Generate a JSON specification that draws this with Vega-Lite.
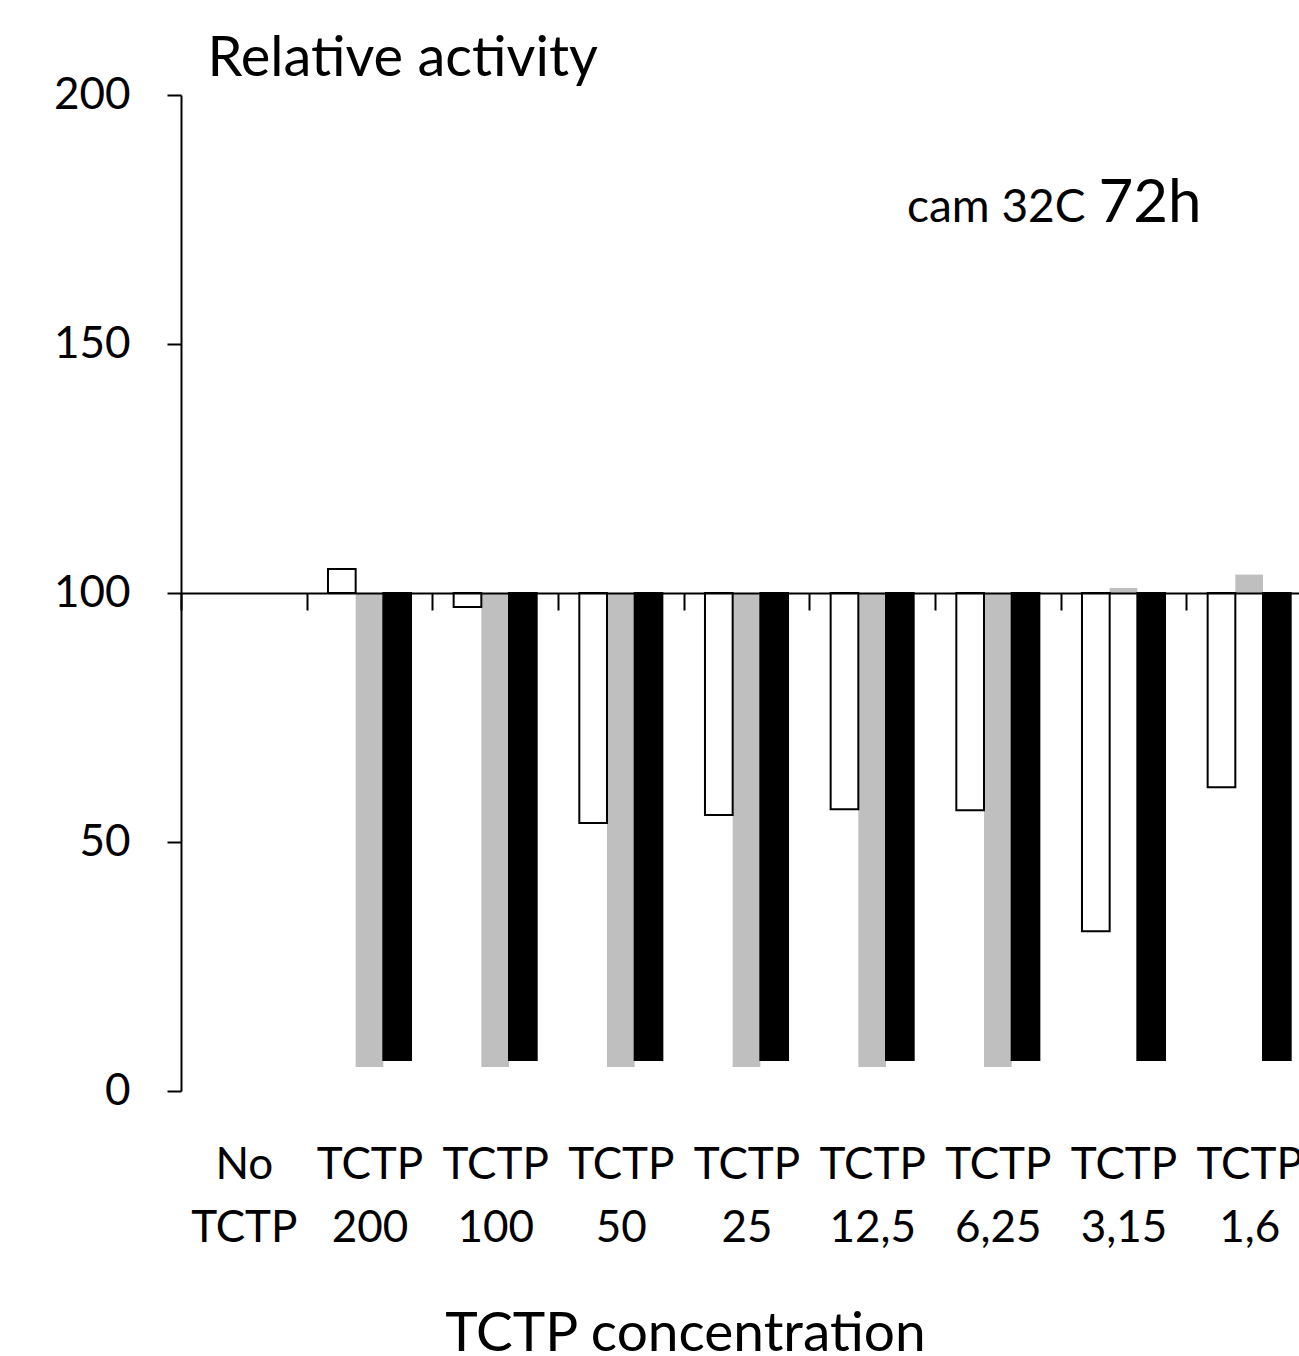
{
  "$schema": "https://vega.github.io/schema/vega-lite/v6.json",
  "width": 1118,
  "height": 996,
  "autosize": {"type": "none"},
  "padding": {"left": 181, "top": 95, "right": 0, "bottom": 265},
  "config": {"font": "Lato", "view": {"stroke": null}},
  "datasets": {
    "bars": [
      {"condition": "TCTP 200", "series": "series 2", "value": 4.8},
      {"condition": "TCTP 200", "series": "series 3", "value": 6.2},
      {"condition": "TCTP 100", "series": "series 2", "value": 4.8},
      {"condition": "TCTP 100", "series": "series 3", "value": 6.2},
      {"condition": "TCTP 50", "series": "series 2", "value": 4.8},
      {"condition": "TCTP 50", "series": "series 3", "value": 6.2},
      {"condition": "TCTP 25", "series": "series 2", "value": 4.8},
      {"condition": "TCTP 25", "series": "series 3", "value": 6.2},
      {"condition": "TCTP 12,5", "series": "series 2", "value": 4.8},
      {"condition": "TCTP 12,5", "series": "series 3", "value": 6.2},
      {"condition": "TCTP 6,25", "series": "series 2", "value": 4.8},
      {"condition": "TCTP 6,25", "series": "series 3", "value": 6.2},
      {"condition": "TCTP 3,15", "series": "series 2", "value": 101.0},
      {"condition": "TCTP 3,15", "series": "series 3", "value": 6.2},
      {"condition": "TCTP 1,6", "series": "series 2", "value": 103.7},
      {"condition": "TCTP 1,6", "series": "series 3", "value": 6.2},
      {"condition": "TCTP 200", "series": "series 1", "value": 104.8},
      {"condition": "TCTP 100", "series": "series 1", "value": 97.2},
      {"condition": "TCTP 50", "series": "series 1", "value": 53.8},
      {"condition": "TCTP 25", "series": "series 1", "value": 55.4},
      {"condition": "TCTP 12,5", "series": "series 1", "value": 56.6},
      {"condition": "TCTP 6,25", "series": "series 1", "value": 56.4},
      {"condition": "TCTP 3,15", "series": "series 1", "value": 32.1},
      {"condition": "TCTP 1,6", "series": "series 1", "value": 61.0}
    ],
    "notes": [
      {"condition": "TCTP 3,15", "value": 174.5, "text": "cam 32C", "part": "small"},
      {"condition": "TCTP 3,15", "value": 174.5, "text": "72h", "part": "big"}
    ]
  },
  "layer": [
    {
      "data": {"name": "bars"},
      "mark": {"type": "bar", "strokeWidth": 2},
      "encoding": {
        "x": {
          "field": "condition",
          "type": "nominal",
          "sort": null,
          "scale": {
            "domain": ["No TCTP", "TCTP 200", "TCTP 100", "TCTP 50", "TCTP 25", "TCTP 12,5", "TCTP 6,25", "TCTP 3,15", "TCTP 1,6"],
            "range": [0, 1131],
            "paddingInner": 0,
            "paddingOuter": 0
          },
          "axis": {
            "title": "TCTP concentration",
            "orient": "bottom",
            "offset": -498,
            "tickBand": "extent",
            "tickSize": 17,
            "tickWidth": 2,
            "tickColor": "#000000",
            "domainColor": "#000000",
            "domainWidth": 2,
            "labelAngle": 0,
            "labelFontSize": 44,
            "labelColor": "#000000",
            "labelPadding": 568,
            "labelBaseline": "alphabetic",
            "labelLineHeight": 63,
            "labelOverlap": false,
            "labelExpr": "split(datum.label, ' ')",
            "titleX": 504,
            "titleY": 757,
            "titleAlign": "center",
            "titleBaseline": "alphabetic",
            "titleFontSize": 55,
            "titleFontWeight": "normal",
            "titleColor": "#000000",
            "zindex": 1
          }
        },
        "xOffset": {
          "field": "series",
          "type": "nominal",
          "scale": {"domain": ["series 1", "series 2", "series 3"], "paddingInner": 0, "paddingOuter": 0.77}
        },
        "y": {
          "field": "value",
          "type": "quantitative",
          "scale": {"domain": [0, 200], "nice": false},
          "axis": {
            "values": [0, 50, 100, 150, 200],
            "grid": false,
            "title": "Relative activity",
            "titleAngle": 0,
            "titleAlign": "left",
            "titleBaseline": "alphabetic",
            "titleX": 26,
            "titleY": -20,
            "titleFontSize": 56,
            "titleFontWeight": "normal",
            "titleColor": "#000000",
            "labelFontSize": 44,
            "labelColor": "#000000",
            "labelPadding": 37,
            "tickSize": 14,
            "tickWidth": 2,
            "tickColor": "#000000",
            "domainColor": "#000000",
            "domainWidth": 2
          }
        },
        "y2": {"datum": 100},
        "fill": {
          "field": "series",
          "type": "nominal",
          "scale": {"domain": ["series 1", "series 2", "series 3"], "range": ["#ffffff", "#bfbfbf", "#000000"]},
          "legend": null
        },
        "stroke": {
          "field": "series",
          "type": "nominal",
          "scale": {"domain": ["series 1", "series 2", "series 3"], "range": ["#000000", "transparent", "#000000"]},
          "legend": null
        }
      }
    },
    {
      "data": {"name": "notes"},
      "transform": [{"filter": "datum.part === 'small'"}],
      "mark": {"type": "text", "align": "right", "baseline": "alphabetic", "fontSize": 46, "dx": -38, "color": "#000000"},
      "encoding": {
        "x": {"field": "condition", "type": "nominal"},
        "y": {"field": "value", "type": "quantitative"},
        "text": {"field": "text"}
      }
    },
    {
      "data": {"name": "notes"},
      "transform": [{"filter": "datum.part === 'big'"}],
      "mark": {"type": "text", "align": "left", "baseline": "alphabetic", "fontSize": 60, "dx": -25, "color": "#000000"},
      "encoding": {
        "x": {"field": "condition", "type": "nominal"},
        "y": {"field": "value", "type": "quantitative"},
        "text": {"field": "text"}
      }
    }
  ]
}
